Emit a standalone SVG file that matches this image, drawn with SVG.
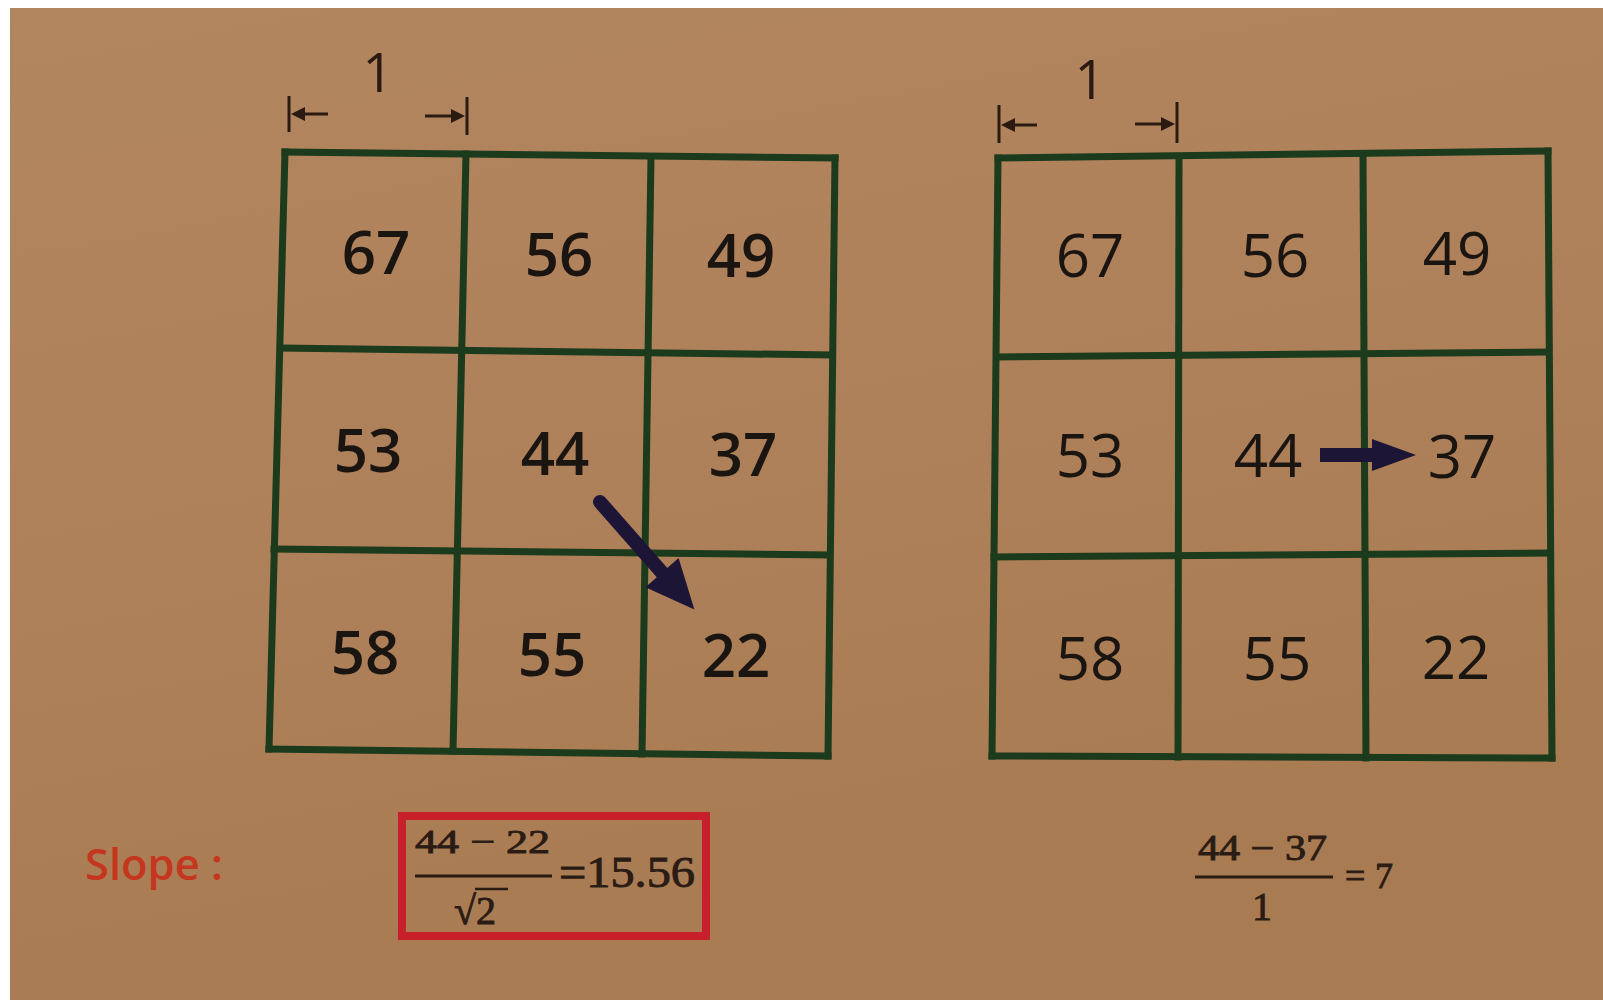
<svg xmlns="http://www.w3.org/2000/svg" width="1603" height="1000" viewBox="0 0 1603 1000">
<defs>
<linearGradient id="bg" x1="0" y1="0" x2="0.3" y2="1">
<stop offset="0" stop-color="#b2865f"/>
<stop offset="0.6" stop-color="#ae8059"/>
<stop offset="1" stop-color="#a97b52"/>
</linearGradient>
<style>
.grid line{stroke:#1c3a1c;stroke-width:7;stroke-linecap:square}
.num{font-family:"Open Sans","Noto Sans",sans-serif;font-size:60px;fill:#1b1511;text-anchor:middle}
.numL{font-weight:600}
.dim{stroke:#2a1a12;stroke-width:3;fill:none}
.dimhead{fill:#2a1a12}
.one{font-family:"Open Sans","Noto Sans",sans-serif;font-size:54px;fill:#2a1a12;text-anchor:middle}
.frac{font-family:"Liberation Serif","Times New Roman",serif;fill:#2a1c14;stroke:#2a1c14;stroke-width:0.9}
.arrow{fill:#1c1535}
</style>
</defs>
<rect x="0" y="0" width="1603" height="1000" fill="#ffffff"/>
<rect x="10" y="8" width="1593" height="992" fill="url(#bg)"/>

<g id="dim-left">
<line class="dim" x1="289" y1="96" x2="289" y2="132"/>
<line class="dim" x1="300" y1="114" x2="328" y2="114"/>
<polygon class="dimhead" points="291,114 305,107 305,121"/>
<line class="dim" x1="467" y1="97" x2="467" y2="135"/>
<line class="dim" x1="425" y1="116" x2="453" y2="116"/>
<polygon class="dimhead" points="465,116 451,109 451,123"/>
<text class="one" x="378" y="92">1</text>
</g>

<g id="dim-right">
<line class="dim" x1="999" y1="105" x2="999" y2="143"/>
<line class="dim" x1="1010" y1="125" x2="1037" y2="125"/>
<polygon class="dimhead" points="1001,125 1015,118 1015,132"/>
<line class="dim" x1="1177" y1="102" x2="1177" y2="143"/>
<line class="dim" x1="1135" y1="124" x2="1162" y2="124"/>
<polygon class="dimhead" points="1175,124 1161,117 1161,131"/>
<text class="one" x="1090" y="99">1</text>
</g>

<g id="grid-left" class="grid">
<line x1="285" y1="152" x2="835" y2="158"/>
<line x1="835" y1="158" x2="828" y2="756"/>
<line x1="828" y1="756" x2="269" y2="749"/>
<line x1="269" y1="749" x2="285" y2="152"/>
<line x1="281" y1="348" x2="831" y2="355"/>
<line x1="274" y1="549" x2="829" y2="555"/>
<line x1="466" y1="154" x2="453" y2="751"/>
<line x1="651" y1="157" x2="642" y2="754"/>
</g>
<g id="cells-left">
<text id="L67" class="num numL" x="376" y="274">67</text>
<text id="L56" class="num numL" x="559" y="276">56</text>
<text id="L49" class="num numL" x="741" y="277">49</text>
<text id="L53" class="num numL" x="368" y="472">53</text>
<text id="L44" class="num numL" x="555" y="475">44</text>
<text id="L37" class="num numL" x="743" y="476">37</text>
<text id="L58" class="num numL" x="365" y="674">58</text>
<text id="L55" class="num numL" x="552" y="676">55</text>
<text id="L22" class="num numL" x="736" y="677">22</text>
</g>

<g id="grid-right" class="grid">
<line x1="998" y1="158" x2="1548" y2="151"/>
<line x1="1548" y1="151" x2="1552" y2="758"/>
<line x1="1552" y1="758" x2="992" y2="756"/>
<line x1="992" y1="756" x2="998" y2="158"/>
<line x1="997" y1="357" x2="1546" y2="352"/>
<line x1="994" y1="557" x2="1548" y2="553"/>
<line x1="1179" y1="160" x2="1178" y2="757"/>
<line x1="1363" y1="155" x2="1366" y2="758"/>
</g>
<g id="cells-right">
<text id="R67" class="num" x="1090" y="277">67</text>
<text id="R56" class="num" x="1275" y="277">56</text>
<text id="R49" class="num" x="1457" y="275">49</text>
<text id="R53" class="num" x="1090" y="477">53</text>
<text id="R44" class="num" x="1268" y="477">44</text>
<text id="R37" class="num" x="1462" y="478">37</text>
<text id="R58" class="num" x="1090" y="680">58</text>
<text id="R55" class="num" x="1277" y="680">55</text>
<text id="R22" class="num" x="1456" y="679">22</text>
</g>

<g id="connectors">
<g transform="translate(600,502) rotate(48.7)">
<line x1="0" y1="0" x2="100" y2="0" stroke="#1c1535" stroke-width="14" stroke-linecap="round"/>
<polygon class="arrow" points="94,-22 143,0 94,22"/>
</g>
<g>
<rect class="arrow" x="1320" y="448" width="56" height="14"/>
<polygon class="arrow" points="1372,439 1416,455 1372,471"/>
</g>
</g>

<g id="slope-label">
<text x="85" y="880" font-family="Open Sans, Noto Sans, sans-serif" font-size="44" font-weight="600" fill="#c5361f" textLength="138" lengthAdjust="spacingAndGlyphs">Slope :</text>
</g>

<g id="formula-left">
<rect x="402" y="816" width="304" height="120" fill="none" stroke="#c8202a" stroke-width="8"/>
<text class="frac" x="415" y="853" font-size="34" textLength="135" lengthAdjust="spacingAndGlyphs">44 − 22</text>
<line x1="415" y1="876" x2="552" y2="876" stroke="#2a1c14" stroke-width="3"/>
<text class="frac" x="559" y="887" font-size="44" textLength="136" lengthAdjust="spacingAndGlyphs">=15.56</text>
<text class="frac" x="454" y="924" font-size="40">√2</text>
<line x1="475" y1="889" x2="508" y2="889" stroke="#2a1c14" stroke-width="2.5"/>
</g>

<g id="formula-right">
<text class="frac" x="1198" y="860" font-size="35" textLength="129" lengthAdjust="spacingAndGlyphs">44 − 37</text>
<line x1="1195" y1="877" x2="1333" y2="877" stroke="#2a1c14" stroke-width="3"/>
<text class="frac" x="1345" y="888" font-size="36" textLength="48" lengthAdjust="spacing">=7</text>
<text class="frac" x="1262" y="920" font-size="40" text-anchor="middle">1</text>
</g>
</svg>
